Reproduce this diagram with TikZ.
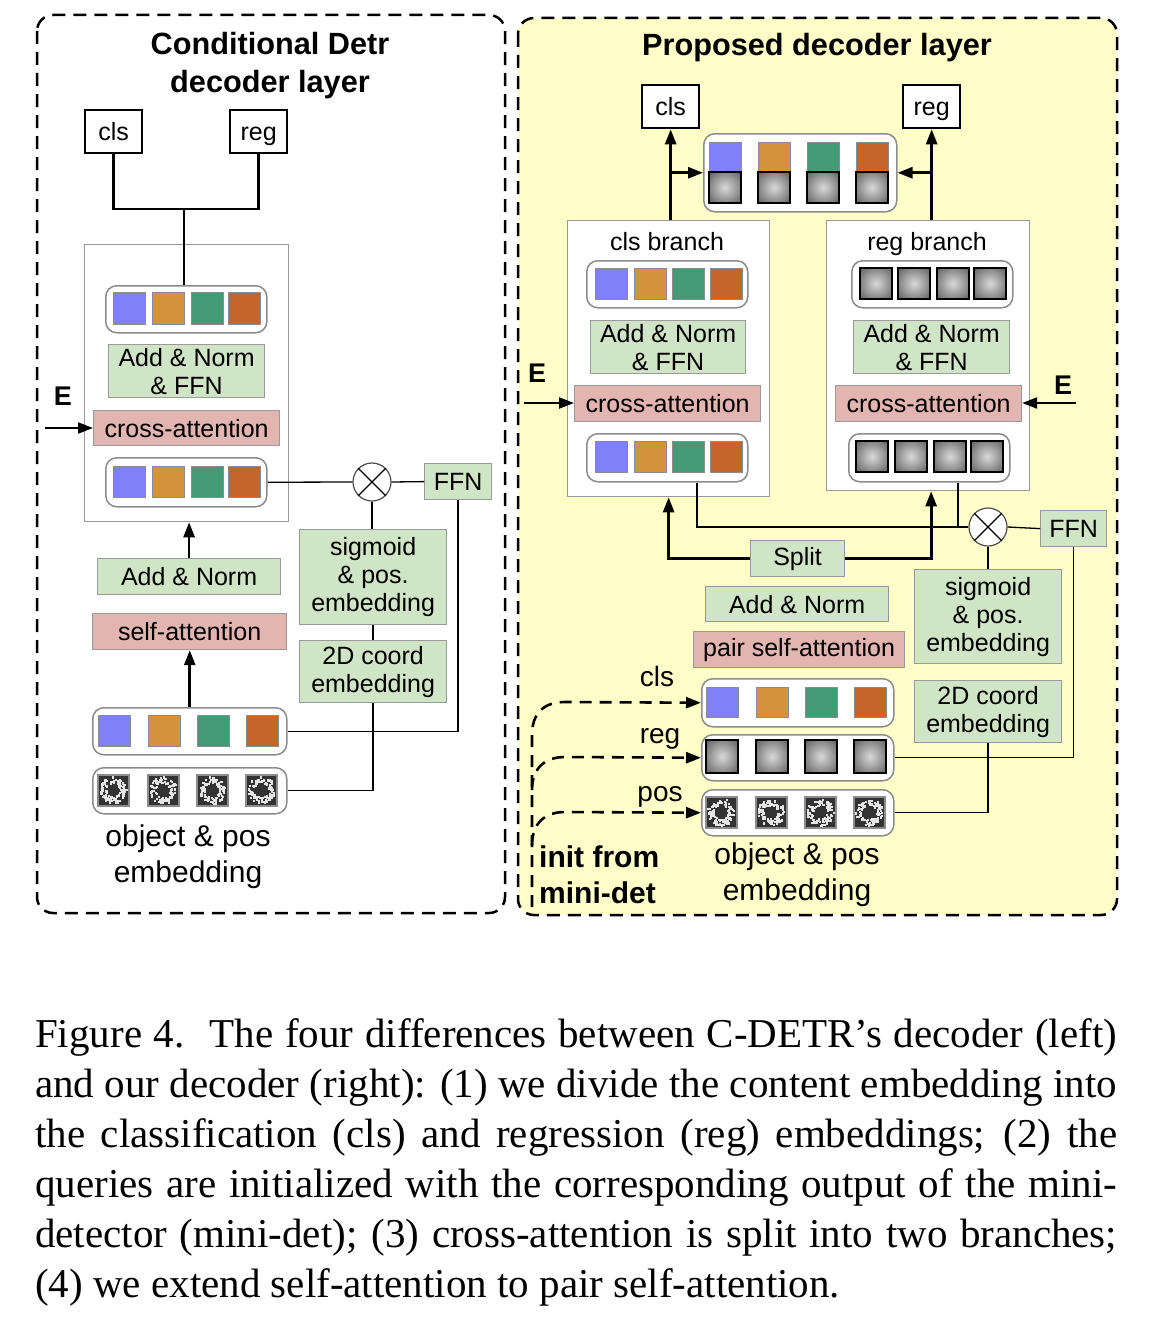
\documentclass[tikz,border=0pt]{standalone}
\usepackage{fontspec}
\setmainfont{Liberation Sans}
\newfontfamily\tmfont{Liberation Serif}
\usetikzlibrary{arrows.meta,calc,shapes.geometric}
\definecolor{cblue}{HTML}{8080F8}
\definecolor{corange}{HTML}{D4923A}
\definecolor{cgreen}{HTML}{459A76}
\definecolor{crust}{HTML}{C66529}
\definecolor{boxgreen}{HTML}{D0E4C6}
\definecolor{boxpink}{HTML}{E3B5B1}
\definecolor{cyellow}{HTML}{FFFDC8}
\pgfdeclareradialshading{tokgray}{\pgfpoint{0bp}{0bp}}{color(0bp)=(black!15); color(20bp)=(black!42); color(50bp)=(black!82); color(72bp)=(black!88)}
\newcommand{\bxf}{\fontsize{25}{28}\selectfont}
\newcommand{\ttlf}{\fontsize{30.7}{38}\selectfont\bfseries}
\newcommand{\objf}{\fontsize{30}{36}\selectfont}
\newcommand{\lblf}{\fontsize{28}{32}\selectfont}
\newcommand{\Ef}{\fontsize{27}{30}\selectfont\bfseries}
\newcommand{\initf}{\fontsize{30}{36}\selectfont\bfseries}
\newcommand{\capf}{\tmfont\fontsize{41}{50}\selectfont}
\newcommand{\mybox}[7]{\node[#1, anchor=north west, minimum width={(#5-#3)*1pt}, minimum height={(#6-#4)*1pt}] (#2) at (#3,#4) {#7};}
\newcommand{\sqc}[4]{\fill[#4, draw=black!45, line width=0.8pt] (#1,#2) rectangle ++(32,#3);}
\newcommand{\sqg}[3]{\shade[shading=tokgray, draw=black, line width=1.6pt] (#1,#2) rectangle ++(32,#3);}
\newcommand{\sqn}[2]{%
  \fill[black!80, draw=black!45, line width=1.4pt] (#1,#2) rectangle ++(31,31);
  \foreach \k in {1,...,95}{%
    \pgfmathsetmacro{\na}{rnd*360}%
    \pgfmathsetmacro{\nr}{7+6.5*rnd}%
    \pgfmathsetmacro{\nx}{#1+15.5+\nr*cos(\na)-1.1}%
    \pgfmathsetmacro{\ny}{#2+15.5+\nr*sin(\na)-1.1}%
    \fill[white!90!black] (\nx,\ny) rectangle ++(2.2,2.2);}%
}
\tikzset{
  panel/.style={line width=2.5pt, dash pattern=on 13pt off 8pt, rounded corners=16pt},
  bigbox/.style={draw=black!40, line width=1.3pt, fill=white, inner sep=0},
  tokrow/.style={draw=black!45, line width=1.5pt, fill=white, rounded corners=11pt, inner sep=0},
  gbox/.style={draw=black!40, fill=boxgreen, line width=1.2pt, align=center, inner sep=0, font=\bxf},
  pbox/.style={draw=black!40, fill=boxpink, line width=1.2pt, align=center, inner sep=0, font=\bxf},
  outbox/.style={draw=black, line width=2.3pt, fill=white, inner sep=0, font=\bxf, text height=20pt, text depth=3pt},
  lbl/.style={text height=18pt, text depth=5pt},
  thinln/.style={line width=1.3pt},
  thickln/.style={line width=2.7pt},
  eln/.style={line width=2.2pt},
  dashln/.style={line width=2.6pt, dash pattern=on 12pt off 8pt},
  arr/.style={-{Triangle[length=15pt,width=11pt]}},
  mul/.style={circle, draw=black!70, fill=white, line width=1.2pt, minimum size=38pt, inner sep=0},
}
\begin{document}
\begin{tikzpicture}[x=1pt,y=-1pt]
\useasboundingbox (0,0) rectangle (1150,1322);
\pgfmathsetseed{4242}
% ================= LEFT PANEL =================
\draw[panel] (37,15) rectangle (505,913);
\node[font=\ttlf, align=center] (Ltitle) at (270,66) {Conditional Detr\\decoder layer};
\mybox{outbox}{Lcls}{84}{109}{141}{152}{cls}
\mybox{outbox}{Lreg}{229}{109}{286}{152}{reg}
\mybox{bigbox}{Lbig}{84}{244}{288}{521}{}
\mybox{tokrow}{Ltop}{105}{285}{266}{332}{}
\sqc{113}{292}{32}{cblue}\sqc{152}{292}{32}{corange}\sqc{191}{292}{32}{cgreen}\sqc{228}{292}{32}{crust}
\mybox{gbox}{LaddF}{108}{344}{264}{397}{Add \& Norm\\\& FFN}
\mybox{pbox}{Lcross}{93}{410}{279}{445}{cross-attention}
\mybox{tokrow}{Lbot}{105}{457}{266}{506}{}
\sqc{113}{466}{31}{cblue}\sqc{152}{466}{31}{corange}\sqc{191}{466}{31}{cgreen}\sqc{228}{466}{31}{crust}
\node[font=\Ef] (LE) at (63,396) {E};
\coordinate (LEin) at (45,428);
\draw[eln, arr] (LEin) -- (LEin -| Lcross.west);
\node[mul] (Lmul) at (372,482) {};
\draw[thinln] (Lmul.north west) -- (Lmul.south east) (Lmul.north east) -- (Lmul.south west);
\mybox{gbox}{Lffn}{424}{463}{491}{499}{FFN}
\mybox{gbox}{LaddN}{97}{558}{280}{594}{Add \& Norm}
\mybox{pbox}{Lself}{92}{613}{286}{649}{self-attention}
\mybox{tokrow}{Lobj}{92}{707}{286}{754}{}
\sqc{98}{715}{31}{cblue}\sqc{148}{715}{31}{corange}\sqc{197}{715}{31}{cgreen}\sqc{246}{715}{31}{crust}
\mybox{tokrow}{Lpos}{92}{767}{286}{813}{}
\sqn{98}{775}\sqn{148}{775}\sqn{197}{775}\sqn{246}{775}
\mybox{gbox}{Lsig}{299}{529}{446}{624}{sigmoid\\\& pos.\\embedding}
\mybox{gbox}{L2d}{299}{640}{446}{702}{2D coord\\embedding}
\node[font=\objf, align=center] (Lobjtxt) at (188,857) {object \& pos\\embedding};
% connectors left
\coordinate (Ljoin) at (184,209);
\draw[thickln] (Lcls.south) |- (Ljoin) -| (Lreg.south);
\draw[thickln] (Ljoin) -- (Ljoin |- Ltop.north);
\draw[thinln] (Lbot.east) -- (Lmul.west);
\draw[thinln] (Lmul.east) -- (Lffn.west);
\draw[thinln] (Lmul.south) -- (Lmul.south |- Lsig.north);
\draw[thinln] (Lsig.south) -- (L2d.north);
\draw[thinln] (L2d.south) |- (Lpos.east);
\draw[thinln] (Lffn.south) |- (Lobj.east);
\draw[thickln, arr] (LaddN.north) -- (LaddN.north |- Lbig.south);
\draw[thickln, arr] (Lobj.north) -- (Lobj.north |- Lself.south);
% ================= RIGHT PANEL =================
\draw[panel, fill=cyellow] (518,18) rectangle (1117,915);
\node[font=\ttlf] (Rtitle) at (817,48) {Proposed decoder layer};
\mybox{outbox}{Rcls}{641}{84}{698}{127}{cls}
\mybox{outbox}{Rreg}{902}{84}{959}{127}{reg}
\mybox{tokrow}{Rmid}{703}{133}{896}{211}{}
\sqc{709}{142}{30}{cblue}\sqc{758}{142}{30}{corange}\sqc{807}{142}{30}{cgreen}\sqc{856}{142}{30}{crust}
\sqg{709}{172}{31}\sqg{758}{172}{31}\sqg{807}{172}{31}\sqg{856}{172}{31}
\mybox{bigbox}{Rclsb}{567}{220}{769}{496}{}
\mybox{bigbox}{Rregb}{826}{220}{1029}{490}{}
\node[font=\bxf, lbl] (Rclst) at (667,244) {cls branch};
\node[font=\bxf, lbl] (Rregt) at (927,244) {reg branch};
\mybox{tokrow}{Rct}{586}{260}{747}{307}{}
\sqc{595}{268}{31}{cblue}\sqc{634}{268}{31}{corange}\sqc{672}{268}{31}{cgreen}\sqc{710}{268}{31}{crust}
\mybox{tokrow}{Rrt}{851}{260}{1012}{307}{}
\sqg{860}{268}{31}\sqg{898}{268}{31}\sqg{937}{268}{31}\sqg{974}{268}{31}
\mybox{gbox}{RaddFc}{590}{320}{745}{373}{Add \& Norm\\\& FFN}
\mybox{gbox}{RaddFr}{853}{320}{1009}{373}{Add \& Norm\\\& FFN}
\mybox{pbox}{Rcrossc}{574}{385}{760}{421}{cross-attention}
\mybox{pbox}{Rcrossr}{835}{385}{1021}{421}{cross-attention}
\mybox{tokrow}{Rcb}{586}{433}{747}{481}{}
\sqc{595}{441}{31}{cblue}\sqc{634}{441}{31}{corange}\sqc{672}{441}{31}{cgreen}\sqc{710}{441}{31}{crust}
\mybox{tokrow}{Rrb}{848}{433}{1009}{481}{}
\sqg{856}{441}{31}\sqg{895}{441}{31}\sqg{934}{441}{31}\sqg{971}{441}{31}
\node[font=\Ef] (REL) at (537,373) {E};
\node[font=\Ef] (RER) at (1063,385) {E};
\coordinate (REl) at (524,403);
\draw[eln, arr] (REl) -- (REl -| Rcrossc.west);
\coordinate (REr) at (1076,403);
\draw[eln, arr] (REr) -- (REr -| Rcrossr.east);
\node[mul] (Rmul) at (988,527) {};
\draw[thinln] (Rmul.north west) -- (Rmul.south east) (Rmul.north east) -- (Rmul.south west);
\mybox{gbox}{Rffn}{1040}{510}{1106}{546}{FFN}
\mybox{gbox}{Rsplit}{750}{540}{844}{576}{Split}
\mybox{gbox}{RaddN}{705}{586}{888}{621}{Add \& Norm}
\mybox{pbox}{Rpair}{693}{631}{904}{667}{pair self-attention}
\mybox{gbox}{Rsig}{914}{569}{1061}{663}{sigmoid\\\& pos.\\embedding}
\mybox{gbox}{R2d}{914}{680}{1061}{742}{2D coord\\embedding}
\mybox{tokrow}{Rclsr}{701}{678}{893}{726}{}
\sqc{706}{687}{30}{cblue}\sqc{756}{687}{30}{corange}\sqc{805}{687}{30}{cgreen}\sqc{854}{687}{30}{crust}
\mybox{tokrow}{Rregr}{701}{734}{893}{780}{}
\sqg{706}{740}{33}\sqg{756}{740}{33}\sqg{805}{740}{33}\sqg{854}{740}{33}
\mybox{tokrow}{Rposr}{701}{789}{893}{835}{}
\sqn{706}{797}\sqn{756}{797}\sqn{805}{797}\sqn{854}{797}
\node[font=\lblf, lbl] (Rlcls) at (657,680) {cls};
\node[font=\lblf, lbl] (Rlreg) at (660,737) {reg};
\node[font=\lblf, lbl] (Rlpos) at (660,795) {pos};
\node[font=\initf, anchor=west, inner sep=0] (Rinit1) at (539,857) {init from};
\node[font=\initf, anchor=west, inner sep=0] (Rinit2) at (539,893) {mini-det};
\node[font=\objf, align=center] (Robjtxt) at (797,875) {object \& pos\\embedding};
% connectors right
\draw[thickln, arr] (Rcls.south |- Rclsb.north) -- (Rcls.south);
\coordinate (Rbrc) at (Rcls.south |- Rmid.west);
\draw[thickln, arr] (Rbrc) -- (Rmid.west);
\draw[thickln, arr] (Rreg.south |- Rregb.north) -- (Rreg.south);
\coordinate (Rbrr) at (Rreg.south |- Rmid.east);
\draw[thickln, arr] (Rbrr) -- (Rmid.east);
\draw[thickln, arr] (Rsplit.west) -| (Rclsb.south);
\draw[thickln, arr] (Rsplit.east) -| ([xshift=3pt]Rregb.south);
\coordinate (Rjc) at (697,527);
\draw[thinln] (Rjc |- Rcb.south) -- (Rjc) -- (Rmul.west);
\coordinate (Rjr) at (958,527);
\draw[thinln] (Rjr |- Rrb.south) -- (Rjr);
\draw[thinln] (Rmul.east) -- (Rffn.west);
\draw[thinln] (Rmul.south) -- (Rmul.south |- Rsig.north);
\draw[thinln] (Rffn.south) |- (Rregr.east);
\draw[thinln] (R2d.south) |- (Rposr.east);
\draw[dashln, arr] (532,907) -- (532,735) .. controls (532,712) and (545,702) .. (565,702) -- (Rclsr.west);
\draw[dashln, arr] (532,790) .. controls (532,768) and (545,757) .. (565,757) -- (Rregr.west);
\draw[dashln, arr] (532,845) .. controls (532,823) and (545,812) .. (565,812) -- (Rposr.west);
% ================= CAPTION =================
\node[anchor=base west, inner sep=0, font=\capf] (cap1) at (35,1047) {\makebox[1082pt][s]{Figure 4.\kern7pt{} The four differences between C-DETR’s decoder (left)}};
\node[anchor=base west, inner sep=0, font=\capf] (cap2) at (35,1097) {\makebox[1082pt][s]{and our decoder (right): (1) we divide the content embedding into}};
\node[anchor=base west, inner sep=0, font=\capf] (cap3) at (35,1147) {\makebox[1082pt][s]{the classification (cls) and regression (reg) embeddings; (2) the}};
\node[anchor=base west, inner sep=0, font=\capf] (cap4) at (35,1197) {\makebox[1082pt][s]{queries are initialized with the corresponding output of the mini-}};
\node[anchor=base west, inner sep=0, font=\capf] (cap5) at (35,1247) {\makebox[1082pt][s]{detector (mini-det); (3) cross-attention is split into two branches;}};
\node[anchor=base west, inner sep=0, font=\capf] (cap6) at (35,1297) {(4) we extend self-attention to pair self-attention.};
\end{tikzpicture}
\end{document}
